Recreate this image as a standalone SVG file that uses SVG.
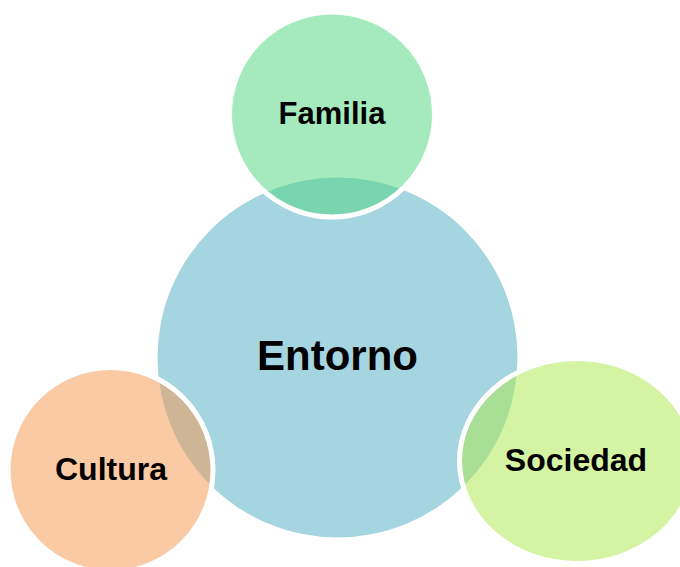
<svg xmlns="http://www.w3.org/2000/svg" width="680" height="567" viewBox="0 0 680 567">
<style>
.lbl{font-family:"Liberation Sans",Arial,sans-serif;font-weight:bold;fill:#000;text-anchor:middle}
.sat{stroke:#fff;stroke-width:5;fill-opacity:0.5}
</style>
<rect width="680" height="567" fill="#fff"/>
<g id="entorno">
<circle cx="337.5" cy="357.5" r="180" fill="#A6D5E2"/>
<text class="lbl" x="337.5" y="370" font-size="42">Entorno</text>
</g>
<g id="familia">
<circle class="sat" cx="332" cy="114.5" r="102.5" fill="#49D57B"/>
<text class="lbl" x="332" y="124" font-size="31">Familia</text>
</g>
<g id="cultura">
<circle class="sat" cx="110.5" cy="470" r="102.5" fill="#F59549"/>
<text class="lbl" x="111" y="480" font-size="32">Cultura</text>
</g>
<g id="sociedad">
<ellipse class="sat" cx="577" cy="461" rx="117.5" ry="102.5" fill="#A9E947"/>
<text class="lbl" x="576" y="471" font-size="32">Sociedad</text>
</g>
<g id="connectors"></g>
</svg>
